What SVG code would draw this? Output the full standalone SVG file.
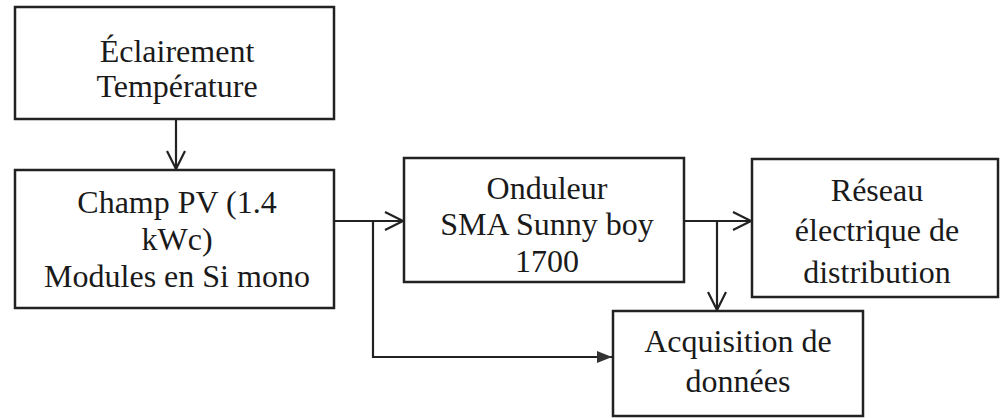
<svg xmlns="http://www.w3.org/2000/svg" width="1001" height="418" viewBox="0 0 1001 418">
  <style>
    .box { fill: #ffffff; stroke: #222222; stroke-width: 2.5; }
    .lbl { font-family: "Liberation Serif", "Times New Roman", serif; font-size: 32px; fill: #1a1a1a; text-anchor: middle; }
    .wire { fill: none; stroke: #222222; stroke-width: 2.2; }
  </style>
  <defs>
    <marker id="open" markerUnits="userSpaceOnUse" markerWidth="24" markerHeight="24" refX="20" refY="10" orient="auto">
      <polyline points="2,1 20,10 2,19" fill="none" stroke="#222222" stroke-width="2.2"/>
    </marker>
    <marker id="solid" markerUnits="userSpaceOnUse" markerWidth="18" markerHeight="14" refX="15" refY="7" orient="auto">
      <polygon points="0,1 15,7 0,13" fill="#333333"/>
    </marker>
  </defs>

  <rect width="1001" height="418" fill="#ffffff"/>

  <g id="connectors">
    <line class="wire" x1="176" y1="119" x2="176" y2="169" marker-end="url(#open)"/>
    <line class="wire" x1="334" y1="221" x2="403" y2="221" marker-end="url(#open)"/>
    <polyline class="wire" points="373,221 373,357 612,357" marker-end="url(#solid)"/>
    <line class="wire" x1="684" y1="221" x2="751" y2="221" marker-end="url(#open)"/>
    <line class="wire" x1="717" y1="221" x2="717" y2="310" marker-end="url(#open)"/>
  </g>

  <g id="eclairement">
    <rect class="box" x="15" y="7" width="319" height="112"/>
    <text class="lbl" x="177" y="62">Éclairement</text>
    <text class="lbl" x="177" y="97">Température</text>
  </g>

  <g id="champ-pv">
    <rect class="box" x="15" y="170" width="319" height="138"/>
    <text class="lbl" x="177" y="213">Champ PV (1.4</text>
    <text class="lbl" x="177" y="250">kWc)</text>
    <text class="lbl" x="177" y="287">Modules en Si mono</text>
  </g>

  <g id="onduleur">
    <rect class="box" x="404" y="158" width="280" height="124"/>
    <text class="lbl" x="547" y="199">Onduleur</text>
    <text class="lbl" x="547" y="235">SMA Sunny boy</text>
    <text class="lbl" x="547" y="272">1700</text>
  </g>

  <g id="reseau">
    <rect class="box" x="752" y="159" width="246" height="138"/>
    <text class="lbl" x="877" y="201">Réseau</text>
    <text class="lbl" x="877" y="241">électrique de</text>
    <text class="lbl" x="877" y="283">distribution</text>
  </g>

  <g id="acquisition">
    <rect class="box" x="613" y="311" width="250" height="105"/>
    <text class="lbl" x="738" y="352">Acquisition de</text>
    <text class="lbl" x="738" y="392">données</text>
  </g>
</svg>
